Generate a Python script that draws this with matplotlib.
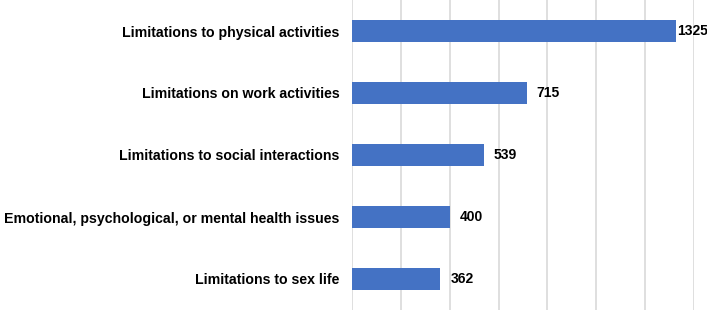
import matplotlib.pyplot as plt

plt.rcParams['font.family'] = ['Liberation Sans', 'DejaVu Sans']

categories = [
    'Limitations to physical activities',
    'Limitations on work activities',
    'Limitations to social interactions',
    'Emotional, psychological, or mental health issues',
    'Limitations to sex life',
]
counts = [1325, 715, 539, 400, 362]

fig = plt.figure(figsize=(7.07, 3.10), dpi=100)
ax = fig.add_axes([352 / 707, 0, (694 - 352) / 707, 1])

ypos = list(range(len(categories)))
ax.barh(ypos, counts, height=0.36, color='#4472C4', zorder=3)

# value labels; the longest one is pushed against the bar so it fits
xmax = 1400
for y, c in zip(ypos, counts):
    pad = 1 if c > 0.9 * xmax else 10
    ax.annotate(str(c), (c, y), xytext=(pad, 0), textcoords='offset pixels',
                ha='left', va='center', fontsize=10, fontweight='bold',
                color='black', annotation_clip=False)

ax.set_yticks(ypos)
ax.set_yticklabels(categories, fontsize=10.2, fontweight='bold')
ax.set_ylim(len(categories) - 0.5, -0.5)
ax.set_xlim(0, xmax)
ax.set_xticks(range(0, xmax + 1, 200))
ax.tick_params(axis='x', length=0, labelbottom=False)
ax.tick_params(axis='y', length=0, pad=9)
ax.grid(axis='x', color='#d9d9d9', linewidth=1.2, zorder=0)
for s in ax.spines.values():
    s.set_visible(False)

fig.savefig('out.png', dpi=100)
